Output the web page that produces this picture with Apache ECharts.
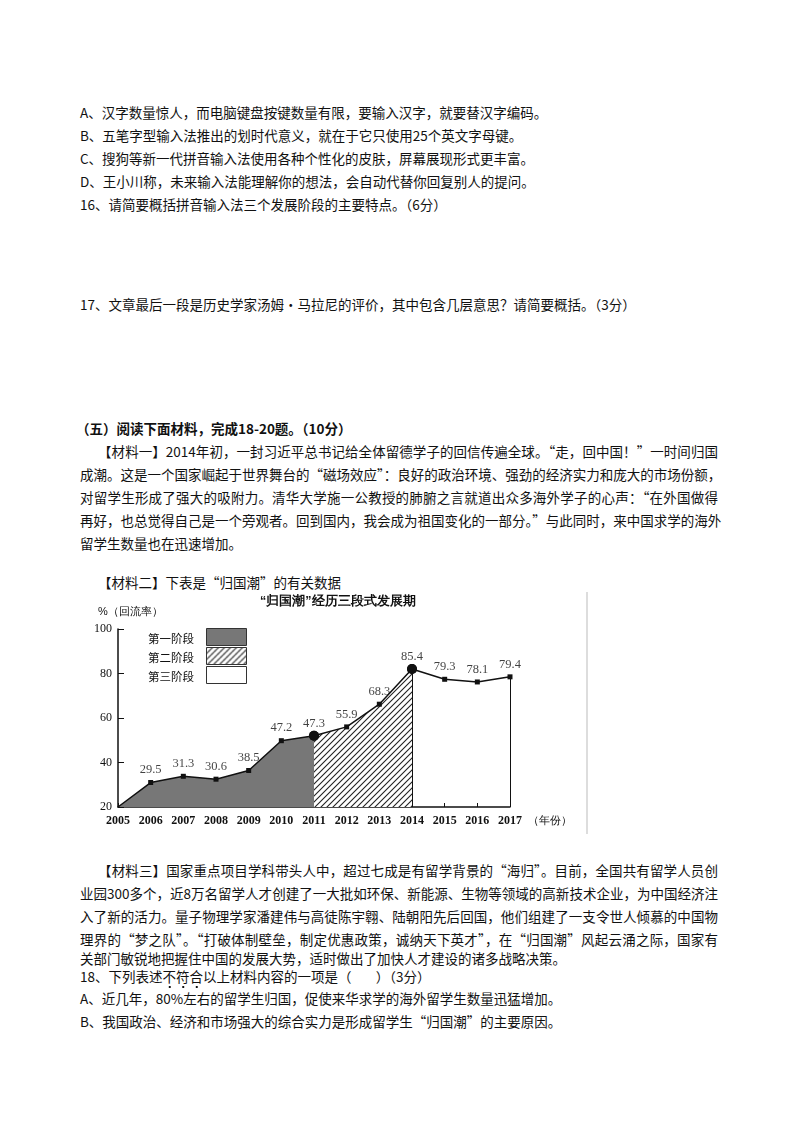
<!DOCTYPE html>
<html><head><meta charset="utf-8">
<script src="https://cdn.jsdelivr.net/npm/echarts@6/dist/echarts.min.js"></script>
<style>
body{margin:0;width:800px;height:1132px;background:#fff;position:relative;font-family:"Noto Sans CJK SC",sans-serif;font-size:13.5px;color:#111}
.l{position:absolute;left:80px;white-space:nowrap;line-height:20px}
.j{width:638px;text-align:justify;text-align-last:justify}
.i{left:98px}.ij{width:620px}
.dot{padding-bottom:3px;background-image:radial-gradient(circle,#111 1.2px,transparent 1.5px);background-size:13.5px 4px;background-repeat:repeat-x;background-position:0 100%}
#chart{position:absolute;left:90px;top:588px;width:500px;height:250px}
</style></head><body>
<div class="l" style="top:102px">A、汉字数量惊人，而电脑键盘按键数量有限，要输入汉字，就要替汉字编码。</div>
<div class="l" style="top:125px">B、五笔字型输入法推出的划时代意义，就在于它只使用25个英文字母键。</div>
<div class="l" style="top:148px">C、搜狗等新一代拼音输入法使用各种个性化的皮肤，屏幕展现形式更丰富。</div>
<div class="l" style="top:171px">D、王小川称，未来输入法能理解你的想法，会自动代替你回复别人的提问。</div>
<div class="l" style="top:194px">16、请简要概括拼音输入法三个发展阶段的主要特点。（6分）</div>
<div class="l" style="top:294px">17、文章最后一段是历史学家汤姆•马拉尼的评价，其中包含几层意思？请简要概括。（3分）</div>
<div class="l" style="top:418px;left:76px;font-weight:bold">（五）阅读下面材料，完成18-20题。（10分）</div>
<div class="l i j ij" style="top:441px">【材料一】2014年初，一封习近平总书记给全体留德学子的回信传遍全球。“走，回中国！”一时间归国</div>
<div class="l j" style="top:464px">成潮。这是一个国家崛起于世界舞台的“磁场效应”：良好的政治环境、强劲的经济实力和庞大的市场份额，</div>
<div class="l j" style="top:487px">对留学生形成了强大的吸附力。清华大学施一公教授的肺腑之言就道出众多海外学子的心声：“在外国做得</div>
<div class="l j" style="top:510px">再好，也总觉得自己是一个旁观者。回到国内，我会成为祖国变化的一部分。”与此同时，来中国求学的海外</div>
<div class="l" style="top:533px">留学生数量也在迅速增加。</div>
<div class="l i" style="top:572px">【材料二】下表是“归国潮”的有关数据</div>
<div id="chart"></div>
<div class="l i j ij" style="top:860px">【材料三】国家重点项目学科带头人中，超过七成是有留学背景的“海归”。目前，全国共有留学人员创</div>
<div class="l j" style="top:883px">业园300多个，近8万名留学人才创建了一大批如环保、新能源、生物等领域的高新技术企业，为中国经济注</div>
<div class="l j" style="top:906px">入了新的活力。量子物理学家潘建伟与高徒陈宇翱、陆朝阳先后回国，他们组建了一支令世人倾慕的中国物</div>
<div class="l j" style="top:929px">理界的“梦之队”。“打破体制壁垒，制定优惠政策，诚纳天下英才”，在“归国潮”风起云涌之际，国家有</div>
<div class="l" style="top:948px">关部门敏锐地把握住中国的发展大势，适时做出了加快人才建设的诸多战略决策。</div>
<div class="l" style="top:966px">18、下列表述<span class="dot">不符合</span>以上材料内容的一项是（&nbsp;&nbsp;&nbsp;&nbsp;&nbsp;&nbsp;&nbsp;&nbsp;）（3分）</div>
<div class="l" style="top:988px">A、近几年，80%左右的留学生归国，促使来华求学的海外留学生数量迅猛增加。</div>
<div class="l" style="top:1011px">B、我国政治、经济和市场强大的综合实力是形成留学生“归国潮”的主要原因。</div>
<script>
const years = ['2005','2006','2007','2008','2009','2010','2011','2012','2013','2014','2015','2016','2017'];
// plotted heights as drawn in the picture
const rates = [20, 31, 33.8, 32.5, 36.4, 49.8, 52, 56, 66.2, 82, 77.4, 76.2, 78.5];
// printed value labels
const labels = ['', '29.5', '31.3', '30.6', '38.5', '47.2', '47.3', '55.9', '68.3', '85.4', '79.3', '78.1', '79.4'];
const stages = ['第一阶段', '第二阶段', '第三阶段'];

// diagonal hatch pattern
const pc = document.createElement('canvas');
pc.width = pc.height = 6;
const g = pc.getContext('2d');
g.fillStyle = '#fff'; g.fillRect(0, 0, 6, 6);
g.strokeStyle = '#222'; g.lineWidth = 1.1;
g.beginPath();
g.moveTo(0, 6); g.lineTo(6, 0);
g.moveTo(-1, 1); g.lineTo(1, -1);
g.moveTo(5, 7); g.lineTo(7, 5);
g.stroke();
const hatch = { image: pc, repeat: 'repeat' };

const part = (a, b) => rates.map((v, i) => (i >= a && i <= b ? v : null));
const serif = 'Liberation Serif';
const chart = echarts.init(document.getElementById('chart'));

const base = {
    type: 'line', lineStyle: { color: '#111', width: 1.5 }, symbol: 'rect', symbolSize: 5,
    itemStyle: { color: '#111' }, z: 3
};
chart.setOption({
    animation: false,
    title: { text: '“归国潮”经历三段式发展期', left: 165, top: 2, textStyle: { fontSize: 12.5, fontWeight: 'bold', color: '#111' } },
    grid: { left: 28, right: 80, top: 41, bottom: 31 },
    xAxis: {
        type: 'category', data: years, boundaryGap: false,
        axisLine: { lineStyle: { color: '#111', width: 1.5 } },
        axisTick: { inside: true, length: 4, lineStyle: { color: '#111' } },
        axisLabel: { color: '#111', fontFamily: serif, fontWeight: 'bold', fontSize: 12, margin: 8 },
        name: '（年份）', nameGap: 6, nameTextStyle: { color: '#111', fontSize: 11, verticalAlign: 'top', padding: [8, 0, 0, 0] }
    },
    yAxis: {
        type: 'value', min: 20, max: 100, interval: 20,
        axisLine: { show: true, lineStyle: { color: '#111', width: 1.5 } },
        axisTick: { show: true, inside: true, length: 6, lineStyle: { color: '#111' } },
        splitLine: { show: false },
        axisLabel: { color: '#111', fontFamily: serif, fontSize: 12, margin: 6 },
        name: '%（回流率）', nameGap: 12, nameTextStyle: { color: '#111', fontSize: 11, align: 'left', padding: [0, 0, 0, -20] }
    },
    series: [
        Object.assign({}, base, {
            data: part(0, 6), areaStyle: { color: '#777', opacity: 1, origin: 'start' },
            symbolSize: (v, p) => (p.dataIndex === 0 ? 0 : p.dataIndex === 6 ? 10 : 5),
            symbol: (v, p) => (p.dataIndex === 6 ? 'circle' : 'rect')
        }),
        Object.assign({}, base, {
            data: part(6, 9), areaStyle: { color: hatch, opacity: 1, origin: 'start' },
            symbolSize: (v, p) => (p.dataIndex === 6 || p.dataIndex === 9 ? 10 : 5),
            symbol: (v, p) => (p.dataIndex === 6 || p.dataIndex === 9 ? 'circle' : 'rect')
        }),
        Object.assign({}, base, {
            data: part(9, 12),
            symbolSize: (v, p) => (p.dataIndex === 9 ? 10 : 5),
            symbol: (v, p) => (p.dataIndex === 9 ? 'circle' : 'rect'),
            markLine: {
                symbol: 'none', silent: true, label: { show: false },
                lineStyle: { color: '#111', width: 1, type: 'solid' },
                data: [
                    [{ coord: ['2014', 20] }, { coord: ['2014', rates[9]] }],
                    [{ coord: ['2017', 20] }, { coord: ['2017', rates[12]] }]
                ]
            }
        }),
        {
            type: 'scatter', data: rates, symbolSize: 0, z: 5,
            label: {
                show: true, position: 'top', distance: 6, color: '#111', fontFamily: serif, fontSize: 12.5,
                formatter: p => labels[p.dataIndex]
            }
        }
    ],
    graphic: [
        { type: 'text', left: 58, top: 45, style: { text: stages[0], fontSize: 11.5, fill: '#111', fontFamily: 'Noto Sans CJK SC' } },
        { type: 'rect', left: 116, top: 40, shape: { width: 40, height: 17 }, style: { fill: '#777', stroke: '#333' } },
        { type: 'text', left: 58, top: 64, style: { text: stages[1], fontSize: 11.5, fill: '#111', fontFamily: 'Noto Sans CJK SC' } },
        { type: 'rect', left: 116, top: 59, shape: { width: 40, height: 17 }, style: { fill: hatch, stroke: '#333' } },
        { type: 'text', left: 58, top: 83, style: { text: stages[2], fontSize: 11.5, fill: '#111', fontFamily: 'Noto Sans CJK SC' } },
        { type: 'rect', left: 116, top: 78, shape: { width: 40, height: 17 }, style: { fill: '#fff', stroke: '#333' } },
        { type: 'line', shape: { x1: 497, y1: 4, x2: 497, y2: 246 }, style: { stroke: '#bbb', lineWidth: 1 } }
    ]
});
</script>
</body></html>
